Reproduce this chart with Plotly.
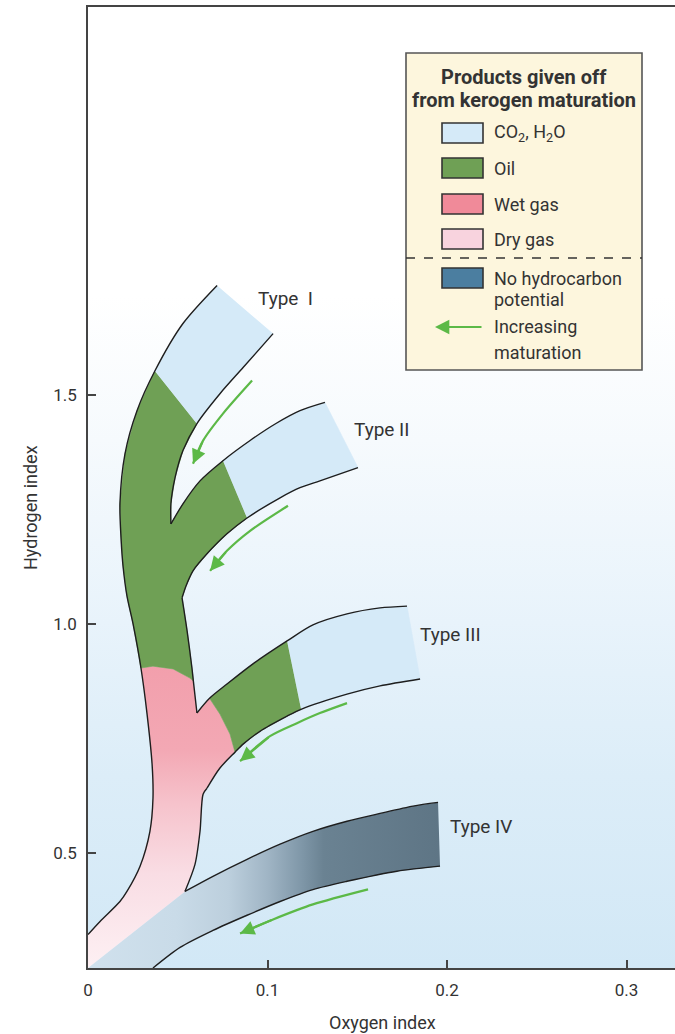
import plotly.graph_objects as go

# ---------------- axes ----------------
x_range = [0, 0.327]
y_range = [0.25, 2.345]
x_tickvals = [0, 0.1, 0.2, 0.3]
x_ticktext = ["0", "0.1", "0.2", "0.3"]
y_tickvals = [0.5, 1.0, 1.5]
y_ticktext = ["0.5", "1.0", "1.5"]
x_title = "Oxygen index"
y_title = "Hydrogen index"

# ---------------- regions (oxygen index, hydrogen index) ----------------
co2_I_x = [0.0719, 0.0529, 0.0373, 0.0607, 0.0735, 0.0864, 0.1031]
co2_I_y = [1.738, 1.655, 1.552, 1.437, 1.502, 1.559, 1.633]

co2_II_x = [0.0752, 0.0903, 0.1047, 0.1181, 0.132, 0.1504, 0.1292, 0.1181, 0.107, 0.0886]
co2_II_y = [1.356, 1.400, 1.437, 1.465, 1.483, 1.341, 1.312, 1.297, 1.275, 1.231]

co2_III_x = [0.1109, 0.1253, 0.1443, 0.1627, 0.1777, 0.185, 0.1627, 0.1443, 0.1187]
co2_III_y = [0.963, 0.998, 1.022, 1.035, 1.039, 0.880, 0.865, 0.847, 0.814]

oil_main_x = [0.0373, 0.0273, 0.0206, 0.0178, 0.0184, 0.0195, 0.0217, 0.0251, 0.0295, 0.0362,
              0.0474, 0.0568, 0.0587, 0.0579, 0.0552, 0.0524, 0.0546, 0.0585, 0.0663, 0.0774,
              0.0886, 0.0752, 0.0624, 0.0529, 0.0462, 0.0462, 0.0485, 0.0529, 0.0607]
oil_main_y = [1.552, 1.465, 1.371, 1.262, 1.188, 1.127, 1.061, 1.000, 0.904, 0.908,
              0.902, 0.882, 0.8755, 0.904, 0.985, 1.057, 1.083, 1.116, 1.153, 1.1965,
              1.231, 1.356, 1.312, 1.262, 1.218, 1.262, 1.319, 1.378, 1.437]

oil_III_x = [0.0677, 0.0735, 0.0791, 0.0819, 0.0864, 0.0958, 0.1109, 0.1187, 0.1109, 0.0919, 0.0774]
oil_III_y = [0.838, 0.8035, 0.760, 0.7205, 0.738, 0.766, 0.799, 0.814, 0.963, 0.913, 0.869]

gas_x = [0.0295, 0.0362, 0.0474, 0.0568, 0.0587, 0.0607, 0.0677, 0.0735, 0.0791, 0.0819,
         0.0735, 0.0663, 0.0641, 0.0624, 0.0596, 0.054, 0.0, 0.0, 0.0067, 0.0178,
         0.0217, 0.029, 0.0345, 0.0362, 0.0357, 0.0329]
gas_y = [0.904, 0.908, 0.902, 0.882, 0.8755, 0.806, 0.838, 0.8035, 0.760, 0.7205,
         0.686, 0.642, 0.629, 0.548, 0.476, 0.417, 0.25, 0.323, 0.3515, 0.395,
         0.417, 0.472, 0.548, 0.620, 0.694, 0.8035]

typeIV_x = [0.054, 0.0696, 0.0886, 0.107, 0.1253, 0.1443, 0.1627, 0.1811, 0.195, 0.1961,
            0.1721, 0.1443, 0.1253, 0.107, 0.0886, 0.0696, 0.0513, 0.0362, 0.0]
typeIV_y = [0.417, 0.450, 0.487, 0.520, 0.548, 0.570, 0.587, 0.603, 0.611, 0.472,
            0.461, 0.439, 0.421, 0.395, 0.365, 0.332, 0.295, 0.25, 0.25]

# ---------------- outline curves ----------------
outer_x = [0.0719, 0.0529, 0.0373, 0.0273, 0.0206, 0.0178, 0.0184, 0.0195, 0.0217, 0.0251,
           0.0295, 0.0329, 0.0357, 0.0362, 0.0345, 0.029, 0.0217, 0.0178, 0.0067, 0.0]
outer_y = [1.738, 1.655, 1.552, 1.465, 1.371, 1.262, 1.188, 1.127, 1.061, 1.000,
           0.904, 0.8035, 0.694, 0.620, 0.548, 0.472, 0.417, 0.395, 0.3515, 0.323]

typeI_inner_x = [0.1031, 0.0864, 0.0735, 0.0607, 0.0529, 0.0485, 0.0462, 0.0462]
typeI_inner_y = [1.633, 1.559, 1.502, 1.437, 1.378, 1.319, 1.262, 1.218]

typeII_upper_x = [0.0462, 0.0529, 0.0624, 0.0752, 0.0903, 0.1047, 0.1181, 0.132]
typeII_upper_y = [1.218, 1.262, 1.312, 1.356, 1.400, 1.437, 1.465, 1.483]

typeII_lower_x = [0.1504, 0.1292, 0.1181, 0.107, 0.0886, 0.0774, 0.0663, 0.0585, 0.0546, 0.0524]
typeII_lower_y = [1.341, 1.312, 1.297, 1.275, 1.231, 1.1965, 1.153, 1.116, 1.083, 1.057]

trunk_mid_x = [0.0524, 0.0552, 0.0579, 0.0587, 0.0607]
trunk_mid_y = [1.057, 0.985, 0.904, 0.8755, 0.806]

typeIII_upper_x = [0.0607, 0.0677, 0.0774, 0.0919, 0.1109, 0.1253, 0.1443, 0.1627, 0.1777]
typeIII_upper_y = [0.806, 0.838, 0.869, 0.913, 0.963, 0.998, 1.022, 1.035, 1.039]

typeIII_lower_x = [0.185, 0.1627, 0.1443, 0.1187, 0.1109, 0.0958, 0.0864, 0.0819, 0.0735, 0.0663]
typeIII_lower_y = [0.880, 0.865, 0.847, 0.814, 0.799, 0.766, 0.738, 0.7205, 0.686, 0.642]

trunk_low_x = [0.0663, 0.0641, 0.0624, 0.0596, 0.054]
trunk_low_y = [0.642, 0.629, 0.548, 0.476, 0.417]

typeIV_upper_x = [0.054, 0.0696, 0.0886, 0.107, 0.1253, 0.1443, 0.1627, 0.1811, 0.195]
typeIV_upper_y = [0.417, 0.450, 0.487, 0.520, 0.548, 0.570, 0.587, 0.603, 0.611]

typeIV_lower_x = [0.1961, 0.1721, 0.1443, 0.1253, 0.107, 0.0886, 0.0696, 0.0513, 0.0362]
typeIV_lower_y = [0.472, 0.461, 0.439, 0.421, 0.395, 0.365, 0.332, 0.295, 0.25]

# ---------------- maturation arrows ----------------
arrow_I_x = [0.0914, 0.0752, 0.0641, 0.0585]
arrow_I_y = [1.5306, 1.4585, 1.3996, 1.3493]
arrow_II_x = [0.1114, 0.0903, 0.0774, 0.068]
arrow_II_y = [1.2576, 1.203, 1.1594, 1.1157]
arrow_III_x = [0.1443, 0.1292, 0.1164, 0.1014, 0.0847]
arrow_III_y = [0.8275, 0.8057, 0.7838, 0.7555, 0.7009]
arrow_IV_x = [0.156, 0.1253, 0.1031, 0.0847]
arrow_IV_y = [0.4214, 0.3886, 0.3559, 0.3253]

# ---------------- labels ----------------
type_labels = ["Type\u00a0\u00a0I", "Type II", "Type III", "Type IV"]
type_label_x = [0.0936, 0.1471, 0.1838, 0.2006]
type_label_y = [1.7096, 1.4236, 0.978, 0.559]

legend_title = ["Products given off", "from kerogen maturation"]
legend_items = ["CO<sub>2</sub>, H<sub>2</sub>O", "Oil", "Wet gas", "Dry gas", "No hydrocarbon|potential"]
legend_arrow_item = "Increasing|maturation"

# ---------------- styles ----------------
FONT = "Roboto, Liberation Sans, sans-serif"
TXT = "#333333"
CO2 = "#d5eaf8"
OIL = "#6fa055"
WET = "#f08a99"
DRY = "#f8d3de"
NOHC = "#4b7ea0"
GREEN = "#5cb947"
EDGE = "#1e1e1e"

W, H = 675, 1034
ML, MR, MT, MB = 88, 0, 7, 66
PW, PH = W - ML - MR, H - MT - MB


def pxx(p):
    return (p - ML) / PW


def pxy(p):
    return (H - MB - p) / PH


fig = go.Figure()

# background gradient
fig.add_trace(go.Scatter(
    x=[x_range[0], x_range[1], x_range[1], x_range[0]],
    y=[y_range[0], y_range[0], y_range[1], y_range[1]],
    fill="toself", mode="lines", line=dict(width=0, color="rgba(0,0,0,0)"),
    fillgradient=dict(type="vertical", start=y_range[0], stop=y_range[1],
                      colorscale=[[0, "#d2e8f6"], [0.2, "#dcedf8"], [0.36, "#e8f3fb"],
                                  [0.55, "#f6fafd"], [0.7, "#ffffff"], [1, "#ffffff"]]),
    hoverinfo="skip"))


def fill(x, y, color=None, grad=None):
    kw = dict(x=x, y=y, fill="toself", mode="lines",
              line=dict(width=0.6, color=color if color else "rgba(0,0,0,0)"),
              hoverinfo="skip")
    if grad is not None:
        kw["fillgradient"] = grad
        kw["line"] = dict(width=0, color="rgba(0,0,0,0)")
    else:
        kw["fillcolor"] = color
    fig.add_trace(go.Scatter(**kw))


fill(typeIV_x, typeIV_y, grad=dict(
    type="horizontal", start=0, stop=0.1961,
    colorscale=[[0, "#d0e1ed"], [0.25, "#c9dbe8"], [0.40, "#bccfdd"], [0.51, "#a0b5c5"],
                [0.61, "#7e96a7"], [0.67, "#6a8292"], [1, "#5e7585"]]))
fill(gas_x, gas_y, grad=dict(
    type="vertical", start=0.25, stop=0.91,
    colorscale=[[0, "#fdf0f3"], [0.31, "#f9dde4"], [0.54, "#f6c3cc"], [0.72, "#f3a8b4"],
                [1, "#f29fac"]]))
fill(oil_main_x, oil_main_y, OIL)
fill(oil_III_x, oil_III_y, OIL)
fill(co2_I_x, co2_I_y, CO2)
fill(co2_II_x, co2_II_y, CO2)
fill(co2_III_x, co2_III_y, CO2)

for ex, ey in [(outer_x, outer_y), (typeI_inner_x, typeI_inner_y),
               (typeII_upper_x, typeII_upper_y), (typeII_lower_x, typeII_lower_y),
               (trunk_mid_x, trunk_mid_y), (typeIII_upper_x, typeIII_upper_y),
               (typeIII_lower_x, typeIII_lower_y), (trunk_low_x, trunk_low_y),
               (typeIV_upper_x, typeIV_upper_y), (typeIV_lower_x, typeIV_lower_y)]:
    fig.add_trace(go.Scatter(x=ex, y=ey, mode="lines",
                             line=dict(color=EDGE, width=1.4, shape="spline", smoothing=0.8),
                             hoverinfo="skip"))

annotations = []
for ax_, ay_ in [(arrow_I_x, arrow_I_y), (arrow_II_x, arrow_II_y),
                 (arrow_III_x, arrow_III_y), (arrow_IV_x, arrow_IV_y)]:
    fig.add_trace(go.Scatter(
        x=ax_, y=ay_, mode="lines",
        line=dict(color=GREEN, width=2.2, shape="spline", smoothing=0.8),
        hoverinfo="skip"))
    annotations.append(dict(x=ax_[-1], y=ay_[-1], ax=ax_[-2], ay=ay_[-2], xref="x", yref="y",
                            axref="x", ayref="y", text="", showarrow=True, arrowhead=2,
                            arrowsize=1.3, arrowwidth=2.2, arrowcolor=GREEN))

for t, lx, ly in zip(type_labels, type_label_x, type_label_y):
    annotations.append(dict(x=lx, y=ly, xref="x", yref="y", text=t, showarrow=False,
                            xanchor="left", yanchor="middle",
                            font=dict(family=FONT, size=19, color=TXT)))

# axis titles
annotations.append(dict(x=pxx(383), y=pxy(1022), xref="paper", yref="paper", text=x_title,
                        showarrow=False, xanchor="center", yanchor="middle",
                        font=dict(family=FONT, size=18, color=TXT)))
annotations.append(dict(x=pxx(30), y=pxy(508), xref="paper", yref="paper", text=y_title,
                        showarrow=False, textangle=-90, xanchor="center", yanchor="middle",
                        font=dict(family=FONT, size=18, color=TXT)))

# legend panel
shapes = []
shapes.append(dict(type="rect", xref="paper", yref="paper", x0=pxx(406), x1=pxx(642),
                   y0=pxy(370), y1=pxy(53), fillcolor="#fdf6dd",
                   line=dict(color="#555555", width=1.6), layer="above"))
for txt, yy in zip(legend_title, [77, 100]):
    annotations.append(dict(x=pxx(524), y=pxy(yy), xref="paper", yref="paper",
                            text="<b>" + txt + "</b>", showarrow=False,
                            xanchor="center", yanchor="middle",
                            font=dict(family=FONT, size=20, color=TXT)))
sw_colors = [CO2, OIL, WET, DRY, NOHC]
sw_top = [123, 158, 194, 229, 268]
text_y = [[133], [168], [204], [239], [278, 299]]
for item, c, top, tys in zip(legend_items, sw_colors, sw_top, text_y):
    shapes.append(dict(type="rect", xref="paper", yref="paper", x0=pxx(442), x1=pxx(483),
                       y0=pxy(top + 20), y1=pxy(top), fillcolor=c,
                       line=dict(color="#333333", width=1.6), layer="above"))
    for line_txt, ty in zip(item.split("|"), tys):
        annotations.append(dict(x=pxx(492), y=pxy(ty), xref="paper", yref="paper",
                                text=line_txt, showarrow=False, xanchor="left",
                                yanchor="middle", font=dict(family=FONT, size=18, color=TXT)))
shapes.append(dict(type="line", xref="paper", yref="paper", x0=pxx(406), x1=pxx(642),
                   y0=pxy(258), y1=pxy(258), line=dict(color="#333333", width=1.3, dash="dash"),
                   layer="above"))
annotations.append(dict(x=pxx(435), y=pxy(327), xref="paper", yref="paper", text="",
                        showarrow=True, ax=48, ay=0, arrowhead=2, arrowsize=1.3,
                        arrowwidth=2.2, arrowcolor=GREEN))
for line_txt, ty in zip(legend_arrow_item.split("|"), [327, 352]):
    annotations.append(dict(x=pxx(492), y=pxy(ty), xref="paper", yref="paper",
                            text=line_txt, showarrow=False, xanchor="left",
                            yanchor="middle", font=dict(family=FONT, size=18, color=TXT)))

fig.update_layout(
    width=W, height=H, margin=dict(l=ML, r=MR, t=MT, b=MB),
    paper_bgcolor="white", plot_bgcolor="white", showlegend=False,
    font=dict(family=FONT, color=TXT),
    xaxis=dict(range=x_range, tickvals=x_tickvals, ticktext=x_ticktext, ticks="inside",
               ticklen=8, tickwidth=1.5, tickcolor="#444444", showline=True,
               linecolor="#444444", linewidth=1.6, mirror=True, showgrid=False,
               zeroline=False, tickfont=dict(size=17, color=TXT, family=FONT),
               ticklabelstandoff=6, fixedrange=True),
    yaxis=dict(range=y_range, tickvals=y_tickvals, ticktext=y_ticktext, ticks="inside",
               ticklen=8, tickwidth=1.5, tickcolor="#444444", showline=True,
               linecolor="#444444", linewidth=1.6, showgrid=False, zeroline=False,
               tickfont=dict(size=17, color=TXT, family=FONT), ticklabelstandoff=6,
               fixedrange=True),
    shapes=shapes, annotations=annotations,
)

fig.write_html(
    "out.html",
    config={"displayModeBar": False},
    post_script="document.body.style.margin='0px';document.body.style.overflow='hidden';",
)
